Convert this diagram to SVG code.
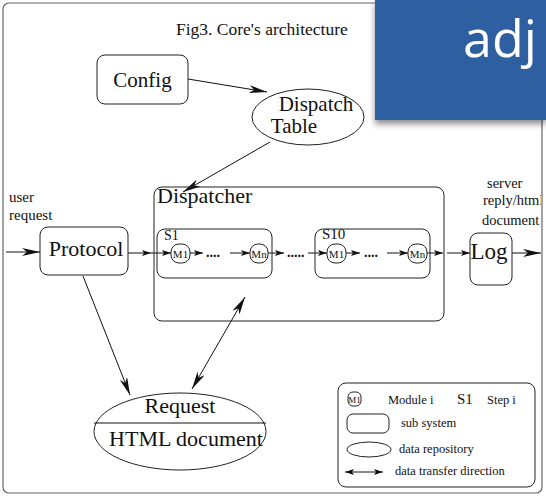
<svg xmlns="http://www.w3.org/2000/svg" width="546" height="496" viewBox="0 0 546 496">
<style>
.t{font-family:'Liberation Serif','DejaVu Serif','Times New Roman',serif;fill:#111}
.box{fill:#fff;stroke:#222;stroke-width:1}
.ln{stroke:#111;stroke-width:1;fill:none}
.dots{font-family:'Liberation Serif','DejaVu Serif',serif;font-size:14px;font-weight:bold;fill:#111}
</style>
<defs>
<marker id="big" markerUnits="userSpaceOnUse" viewBox="0 0 18 8" markerWidth="18" markerHeight="8" refX="18" refY="4" orient="auto-start-reverse">
<path d="M0,0 L18,4 L0,8 L5,4 z" fill="#111"/>
</marker>
<marker id="sm" markerUnits="userSpaceOnUse" viewBox="0 0 9 6" markerWidth="9" markerHeight="6" refX="9" refY="3" orient="auto-start-reverse">
<path d="M0,0 L9,3 L0,6 L2,3 z" fill="#111"/>
</marker>
<filter id="sh" x="-10%" y="-10%" width="130%" height="140%">
<feDropShadow dx="0" dy="4" stdDeviation="3" flood-color="#000" flood-opacity="0.45"/>
</filter>
<clipPath id="clipR"><rect x="0" y="0" width="541" height="496"/></clipPath>
</defs>
<rect width="546" height="496" fill="#fff"/>
<rect x="3" y="3" width="539" height="490" rx="6" fill="none" stroke="#666" stroke-width="1.2"/>

<text class="t" x="176" y="35" font-size="17.5">Fig3. Core's architecture</text>

<g id="connectors">
<line class="ln" x1="188" y1="79" x2="267" y2="92" marker-end="url(#big)"/>
<line class="ln" x1="270" y1="142" x2="183" y2="192" marker-end="url(#big)"/>
<line class="ln" x1="6" y1="252" x2="40" y2="252" marker-end="url(#big)"/>
<line class="ln" x1="128" y1="253" x2="151" y2="253" marker-end="url(#sm)"/>
<line class="ln" x1="151" y1="253" x2="171" y2="253" marker-end="url(#sm)"/>
<line class="ln" x1="190" y1="253" x2="203" y2="253" marker-end="url(#sm)"/>
<line class="ln" x1="230" y1="253" x2="250" y2="253" marker-end="url(#sm)"/>
<line class="ln" x1="268" y1="253" x2="284" y2="253" marker-end="url(#sm)"/>
<line class="ln" x1="308" y1="253" x2="327" y2="253" marker-end="url(#sm)"/>
<line class="ln" x1="346" y1="253" x2="360" y2="253" marker-end="url(#sm)"/>
<line class="ln" x1="387" y1="253" x2="408" y2="253" marker-end="url(#sm)"/>
<line class="ln" x1="427" y1="253" x2="443" y2="253" marker-end="url(#sm)"/>
<line class="ln" x1="447" y1="253" x2="470" y2="253" marker-end="url(#sm)"/>
<line class="ln" x1="512" y1="253" x2="541" y2="253" marker-end="url(#big)"/>
<line class="ln" x1="83" y1="276" x2="130" y2="395" marker-end="url(#big)"/>
<line class="ln" x1="245" y1="297" x2="192" y2="389" marker-start="url(#big)" marker-end="url(#big)"/>
</g>

<g id="config">
<rect class="box" x="97" y="55" width="91" height="49" rx="8"/>
<text class="t" x="142.5" y="87" font-size="21" text-anchor="middle">Config</text>
</g>

<g id="dispatch-table">
<ellipse class="box" cx="308" cy="117" rx="56" ry="28"/>
<text class="t" x="316" y="111" font-size="21" text-anchor="middle">Dispatch</text>
<text class="t" x="294" y="133" font-size="21" text-anchor="middle">Table</text>
</g>

<g id="user-request">
<text class="t" x="9" y="202" font-size="15">user</text>
<text class="t" x="9" y="220" font-size="15">request</text>
</g>

<g id="protocol">
<rect class="box" x="40" y="227" width="88" height="48" rx="8"/>
<text class="t" x="86" y="256" font-size="22" text-anchor="middle">Protocol</text>
</g>

<g id="dispatcher">
<rect x="154" y="187" width="290" height="134" rx="8" fill="none" stroke="#222"/>
<text class="t" x="157" y="203" font-size="22">Dispatcher</text>
</g>

<g id="s1">
<rect x="157" y="229" width="115" height="49" rx="8" fill="none" stroke="#222"/>
<text class="t" x="164" y="240" font-size="14">S1</text>
<rect class="box" x="171" y="244" width="19" height="19" rx="8"/>
<text class="t" x="180.5" y="258" font-size="11" text-anchor="middle">M1</text>
<text class="dots" x="206" y="257">....</text>
<rect class="box" x="250" y="244" width="18" height="19" rx="8"/>
<text class="t" x="259" y="258" font-size="11" text-anchor="middle">Mn</text>
</g>

<text class="dots" x="287" y="257" font-weight="normal">.....</text>

<g id="s10">
<rect x="315" y="229" width="115" height="49" rx="8" fill="none" stroke="#222"/>
<text class="t" x="322" y="239" font-size="15">S10</text>
<rect class="box" x="327" y="244" width="19" height="19" rx="8"/>
<text class="t" x="336.5" y="258" font-size="11" text-anchor="middle">M1</text>
<text class="dots" x="364" y="257">....</text>
<rect class="box" x="408" y="244" width="19" height="19" rx="8"/>
<text class="t" x="417.5" y="258" font-size="11" text-anchor="middle">Mn</text>
</g>

<g id="log">
<rect class="box" x="470" y="233" width="42" height="52" rx="8"/>
<text class="t" x="489" y="259" font-size="23" text-anchor="middle">Log</text>
</g>

<g id="server-reply" clip-path="url(#clipR)">
<text class="t" x="487" y="188" font-size="14.5">server</text>
<text class="t" x="483" y="205" font-size="14.5">reply/html</text>
<text class="t" x="482" y="225" font-size="14.5">document</text>
</g>

<g id="request">
<ellipse class="box" cx="180" cy="431.5" rx="86" ry="38.5"/>
<line class="ln" x1="94" y1="423" x2="266" y2="423"/>
<text class="t" x="180" y="413" font-size="22" text-anchor="middle">Request</text>
<text class="t" x="186" y="446" font-size="22" text-anchor="middle">HTML document</text>
</g>

<g id="legend">
<rect x="338" y="383" width="197" height="104" rx="8" fill="#fff" stroke="#222"/>
<rect class="box" x="348" y="392" width="13" height="14" rx="5"/>
<text class="t" x="354.5" y="403" font-size="9" text-anchor="middle">M1</text>
<text class="t" x="388" y="404" font-size="12.5">Module i</text>
<text class="t" x="457" y="404" font-size="15">S1</text>
<text class="t" x="487" y="404" font-size="12.5">Step i</text>
<rect class="box" x="347" y="414" width="42" height="19" rx="6"/>
<text class="t" x="401" y="427" font-size="12.5">sub system</text>
<ellipse class="box" cx="369" cy="449.5" rx="22" ry="7.5"/>
<text class="t" x="399" y="453" font-size="12.5">data repository</text>
<line class="ln" x1="345" y1="472" x2="383" y2="472" marker-start="url(#sm)" marker-end="url(#sm)"/>
<text class="t" x="395" y="475" font-size="12.5">data transfer direction</text>
</g>

<g id="slide-overlay">
<rect x="375" y="0" width="171" height="120" fill="#2e60a1" filter="url(#sh)"/>
<text x="463" y="57" font-family="'Open Sans','Noto Sans',sans-serif" font-size="52" fill="#fff">adj</text>
</g>
</svg>
